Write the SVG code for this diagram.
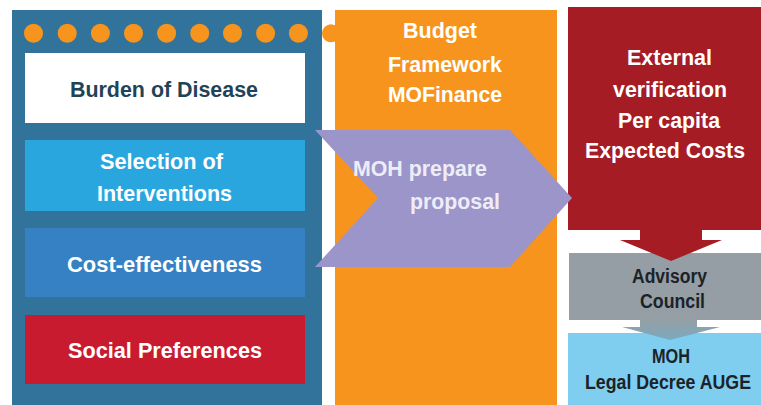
<svg xmlns="http://www.w3.org/2000/svg" width="761" height="405" viewBox="0 0 761 405">
  <style>
    text { font-family: "Liberation Sans", Arial, sans-serif; font-weight: bold; text-anchor: middle; }
    .w { fill: #FFFFFF; font-size: 22.5px; }
    .dk { fill: #1F4457; font-size: 22px; }
    .blk { fill: #1B2228; font-size: 19.5px; }
    .dot { fill: #F7941D; }
    .pp { fill: #EEEDF7; font-size: 22.5px; text-anchor: start; }
  </style>
  <defs>
    <linearGradient id="grayArrow" x1="0" y1="0" x2="0" y2="1">
      <stop offset="0" stop-color="#979FA4"/>
      <stop offset="1" stop-color="#7AA9BF"/>
    </linearGradient>
  </defs>

  <rect width="761" height="405" fill="#FFFFFF"/>

  <!-- Left panel: priority-setting criteria -->
  <g id="criteria">
    <rect x="12" y="10" width="310" height="395" fill="#31739A"/>
    <g id="dots">
      <circle class="dot" cx="33.5" cy="33.3" r="9.5"/>
      <circle class="dot" cx="67.2" cy="33.3" r="9.5"/>
      <circle class="dot" cx="100.4" cy="33.3" r="9.5"/>
      <circle class="dot" cx="133.5" cy="33.3" r="9.5"/>
      <circle class="dot" cx="166.6" cy="33.3" r="9.5"/>
      <circle class="dot" cx="199.7" cy="33.3" r="9.5"/>
      <circle class="dot" cx="232.5" cy="33.3" r="9.5"/>
      <circle class="dot" cx="265.6" cy="33.3" r="9.5"/>
      <circle class="dot" cx="298.4" cy="33.3" r="9.5"/>
    </g>
    <g id="burden">
      <rect x="25" y="53" width="280" height="70" fill="#FFFFFF"/>
      <text class="dk" x="164" y="97" textLength="188" lengthAdjust="spacingAndGlyphs">Burden of Disease</text>
    </g>
    <g id="selection">
      <rect x="25" y="140" width="280" height="71" fill="#2AA6DF"/>
      <text class="w" x="161.5" y="169" textLength="123" lengthAdjust="spacingAndGlyphs">Selection of</text>
      <text class="w" x="164.5" y="201" textLength="135" lengthAdjust="spacingAndGlyphs">Interventions</text>
    </g>
    <g id="cost">
      <rect x="25" y="228" width="280" height="69" fill="#3681C3"/>
      <text class="w" x="164.5" y="272" textLength="195" lengthAdjust="spacingAndGlyphs">Cost-effectiveness</text>
    </g>
    <g id="social">
      <rect x="25" y="315" width="280" height="69" fill="#C91B30"/>
      <text class="w" x="165" y="358" textLength="194" lengthAdjust="spacingAndGlyphs">Social Preferences</text>
    </g>
  </g>

  <!-- Budget framework -->
  <g id="budget">
    <rect x="335" y="10" width="222" height="395" fill="#F7941D"/>
    <circle cx="331" cy="33.3" r="9" fill="#F7941D"/>
    <text class="w" x="440" y="38" textLength="74" lengthAdjust="spacingAndGlyphs">Budget</text>
    <text class="w" x="445" y="72" textLength="114" lengthAdjust="spacingAndGlyphs">Framework</text>
    <text class="w" x="445" y="102" textLength="114" lengthAdjust="spacingAndGlyphs">MOFinance</text>
  </g>

  <!-- External verification -->
  <g id="verification">
    <rect x="568" y="7" width="193" height="223" fill="#A51C24"/>
    <text class="w" x="669.5" y="65" textLength="85" lengthAdjust="spacingAndGlyphs">External</text>
    <text class="w" x="670" y="97" textLength="114" lengthAdjust="spacingAndGlyphs">verification</text>
    <text class="w" x="669" y="128" textLength="102" lengthAdjust="spacingAndGlyphs">Per capita</text>
    <text class="w" x="665" y="158" textLength="160" lengthAdjust="spacingAndGlyphs">Expected Costs</text>
  </g>

  <!-- Advisory council -->
  <g id="advisory">
    <rect x="569" y="253" width="192" height="67" fill="#959EA4"/>
    <text class="blk" x="669.5" y="283" textLength="75" lengthAdjust="spacingAndGlyphs">Advisory</text>
    <text class="blk" x="672.5" y="308" textLength="65" lengthAdjust="spacingAndGlyphs">Council</text>
  </g>

  <!-- Legal decree -->
  <g id="decree">
    <rect x="568" y="333" width="193" height="72" fill="#7FCEF0"/>
    <text class="blk" x="671" y="363" textLength="38" lengthAdjust="spacingAndGlyphs">MOH</text>
    <text class="blk" x="668" y="389" font-size="19" textLength="166" lengthAdjust="spacingAndGlyphs">Legal Decree AUGE</text>
  </g>

  <!-- Flow arrows -->
  <g id="connectors">
    <path d="M315,130 L510,130 L572,198 L510,267 L315,267 L378,198 Z" fill="#9B95C9"/>
    <path d="M640,229 L702,229 L702,240 L722,240 L671,261 L620,240 L640,240 Z" fill="#A51C24"/>
    <path d="M640,319 L697,319 L697,327 L720,327 L670,340 L622,327 L640,327 Z" fill="url(#grayArrow)"/>
  </g>

  <g id="proposal-label">
    <text class="pp" x="353" y="176" textLength="134" lengthAdjust="spacingAndGlyphs">MOH prepare</text>
    <text class="pp" x="410" y="209" textLength="90" lengthAdjust="spacingAndGlyphs">proposal</text>
  </g>
</svg>
